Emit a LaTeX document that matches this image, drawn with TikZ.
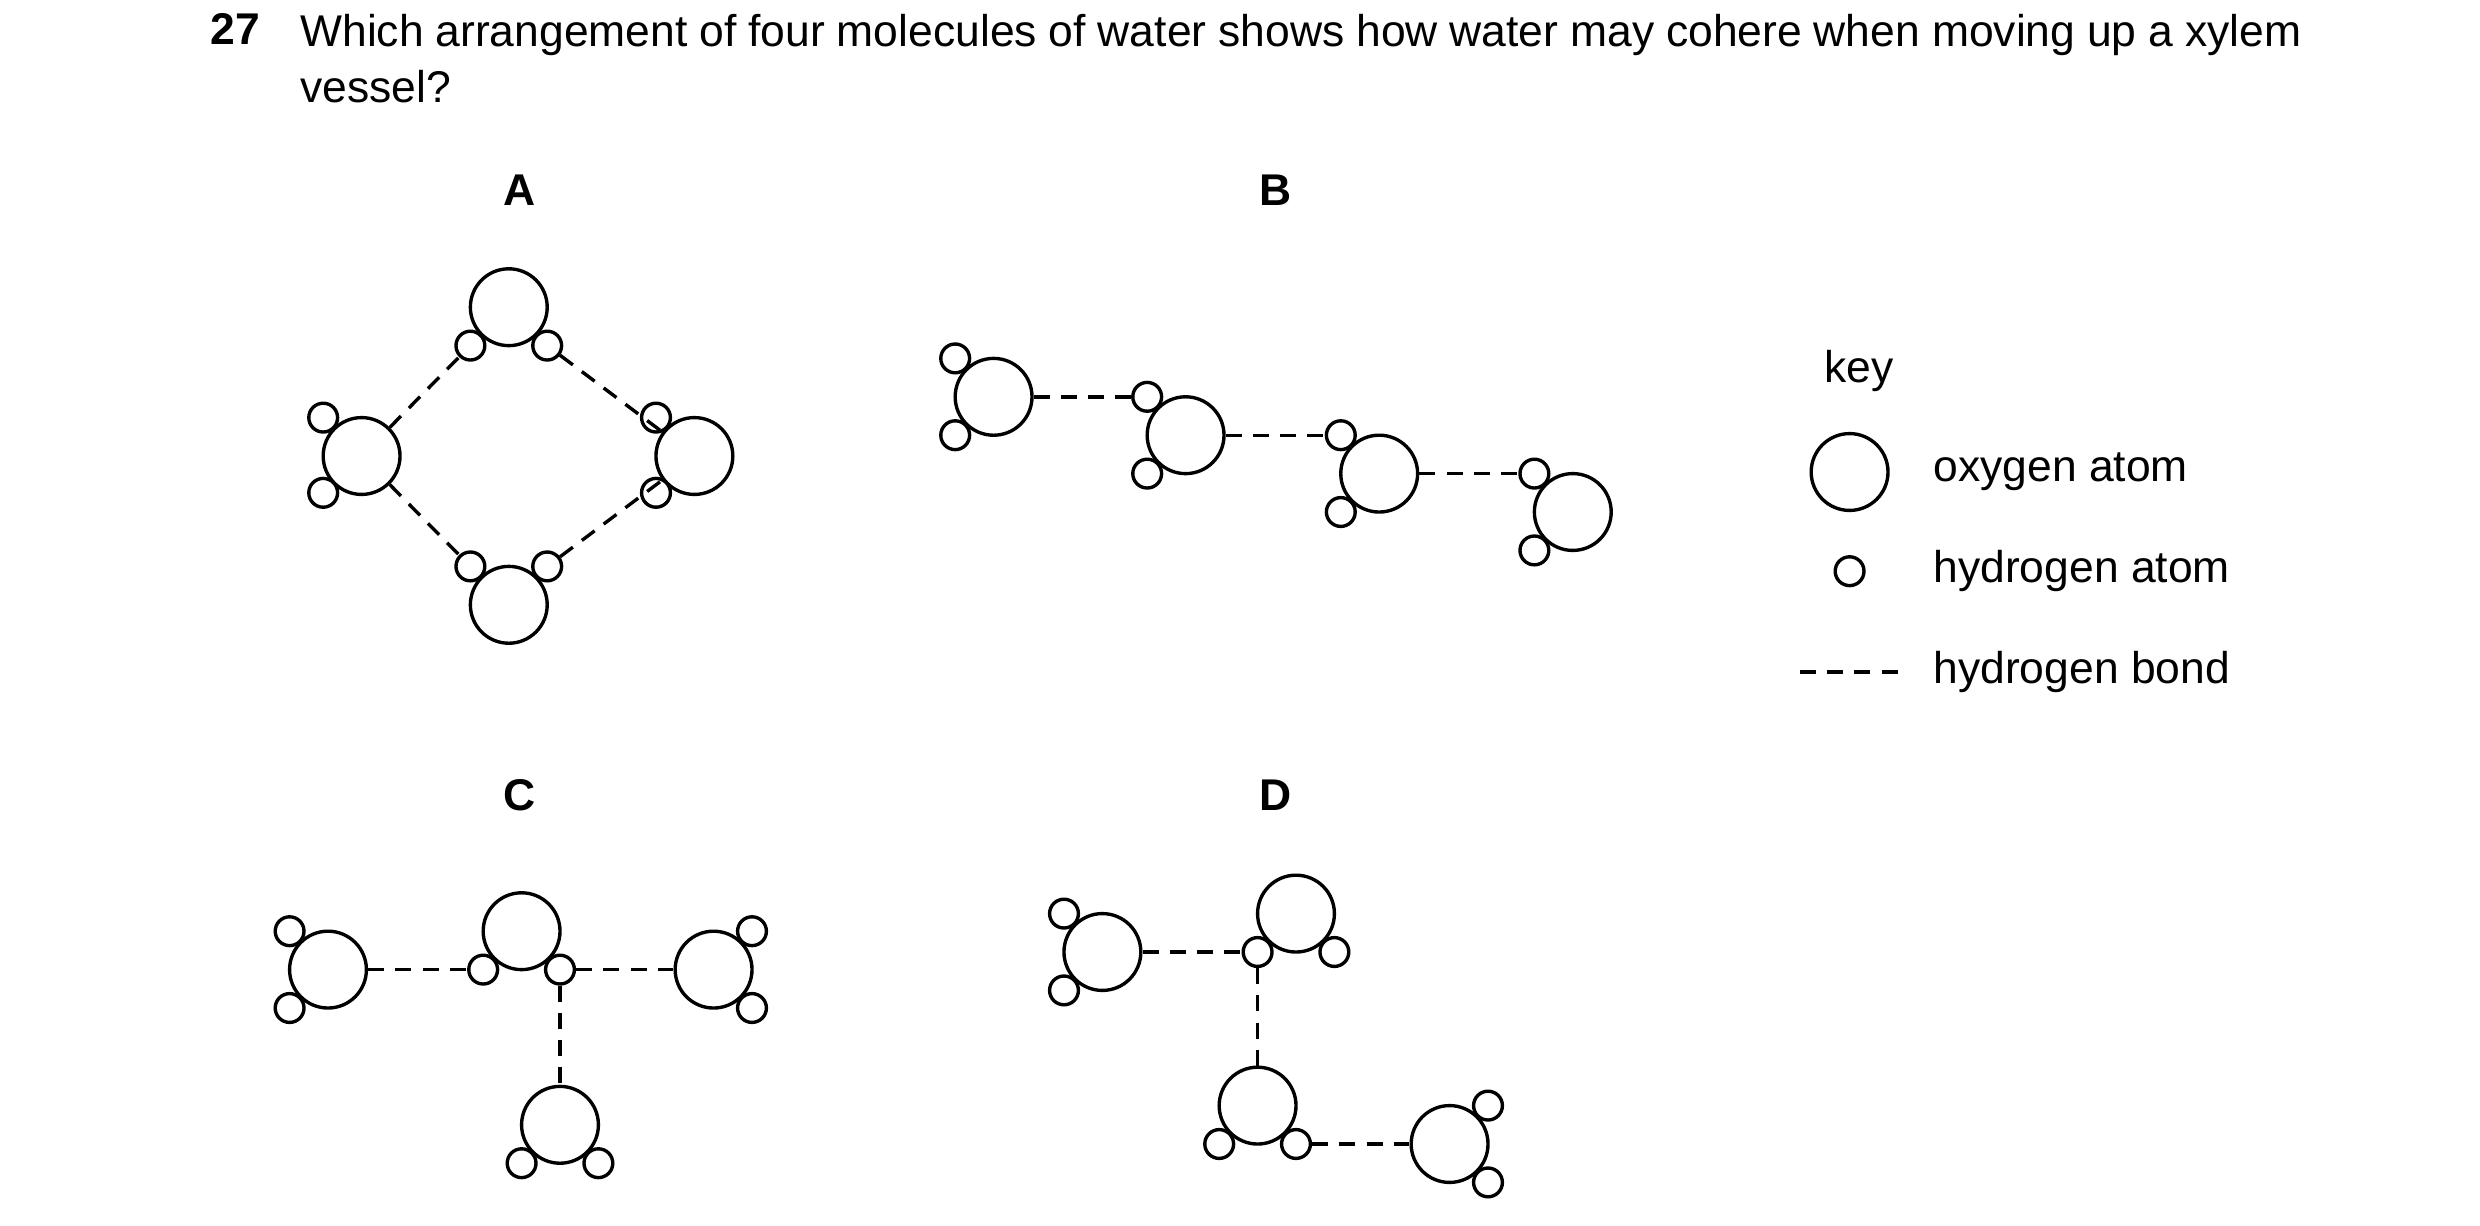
\documentclass[tikz,border=0pt]{standalone}
\usepackage{fontspec}
\setmainfont{Liberation Sans}
\begin{document}
\begin{tikzpicture}[x=0.01cm, y=-0.01cm, font=\fontsize{7.9}{10}\selectfont]
    \tikzstyle{oxy} = [circle, draw, line width=0.6pt, minimum size=0.48cm, inner sep=0pt]
    \tikzstyle{hyd} = [circle, draw, line width=0.6pt, minimum size=0.18cm, inner sep=0pt]
    \tikzstyle{hbond} = [line width=0.6pt, dash pattern=on 0.1cm off 0.07cm]
    \tikzstyle{letter} = [font=\fontsize{7.9}{10}\selectfont\bfseries]
    \useasboundingbox (0,0) rectangle (1550,766);

    % Question
    \node [letter, anchor=north west, inner sep=0pt] (qnum) at (131,8) {27};
    \node [anchor=north west, inner sep=0pt, text width=12.5cm, align=justify] (qtext) at (187,8)
        {Which arrangement of four molecules of water shows how water may cohere when moving up a xylem vessel?};

    % A
    \node [letter] (labA) at (325,119) {A};
    \node [oxy] (aO1) at (318,192) {};
    \node [hyd] (aH1a) at (294,216) {};
    \node [hyd] (aH1b) at (342,216) {};
    \node [oxy] (aO2) at (226,285) {};
    \node [hyd] (aH2a) at (202,261) {};
    \node [hyd] (aH2b) at (202,308) {};
    \node [oxy] (aO3) at (434,285) {};
    \node [hyd] (aH3a) at (410,261) {};
    \node [hyd] (aH3b) at (410,308) {};
    \node [oxy] (aO4) at (318,378) {};
    \node [hyd] (aH4a) at (294,354) {};
    \node [hyd] (aH4b) at (342,354) {};
    \draw [hbond] (aO2) -- (aH1a);
    \draw [hbond] (aH1b) -- (aO3);
    \draw [hbond] (aO2) -- (aH4a);
    \draw [hbond] (aH4b) -- (aO3);

    % B
    \node [letter] (labB) at (797,119) {B};
    \foreach \i/\x/\y in {1/621/248, 2/741/272, 3/862/296, 4/983/320} {
        \node [oxy] (bO\i) at (\x,\y) {};
        \node [hyd] (bH\i a) at (\x-24,\y-24) {};
        \node [hyd] (bH\i b) at (\x-24,\y+24) {};
    }
    \draw [hbond] (bO1) -- (bH2a);
    \draw [hbond] (bO2) -- (bH3a);
    \draw [hbond] (bO3) -- (bH4a);

    % C
    \node [letter] (labC) at (325,497) {C};
    \node [oxy] (cO1) at (205,606) {};
    \node [hyd] (cH1a) at (181,582) {};
    \node [hyd] (cH1b) at (181,630) {};
    \node [oxy] (cO2) at (326,582) {};
    \node [hyd] (cH2a) at (302,606) {};
    \node [hyd] (cH2b) at (350,606) {};
    \node [oxy] (cO3) at (446,606) {};
    \node [hyd] (cH3a) at (470,582) {};
    \node [hyd] (cH3b) at (470,630) {};
    \node [oxy] (cO4) at (350,703) {};
    \node [hyd] (cH4a) at (326,727) {};
    \node [hyd] (cH4b) at (374,727) {};
    \draw [hbond] (cO1) -- (cH2a);
    \draw [hbond] (cH2b) -- (cO3);
    \draw [hbond] (cH2b) -- (cO4);

    % D
    \node [letter] (labD) at (797,497) {D};
    \node [oxy] (dO1) at (689,595) {};
    \node [hyd] (dH1a) at (665,571) {};
    \node [hyd] (dH1b) at (665,619) {};
    \node [oxy] (dO2) at (810,571) {};
    \node [hyd] (dH2a) at (786,595) {};
    \node [hyd] (dH2b) at (834,595) {};
    \node [oxy] (dO3) at (786,691) {};
    \node [hyd] (dH3a) at (762,715) {};
    \node [hyd] (dH3b) at (810,715) {};
    \node [oxy] (dO4) at (906,715) {};
    \node [hyd] (dH4a) at (930,691) {};
    \node [hyd] (dH4b) at (930,739) {};
    \draw [hbond] (dO1) -- (dH2a);
    \draw [hbond] (dH2a) -- (dO3);
    \draw [hbond] (dH3b) -- (dO4);

    % Key
    \node [anchor=west] (keyT) at (1128,232) {key};
    \node [oxy] (keyO) at (1156,295) {};
    \node [anchor=west] (keyOt) at (1196,295) {oxygen atom};
    \node [hyd] (keyH) at (1156,357) {};
    \node [anchor=west] (keyHt) at (1196,357) {hydrogen atom};
    \coordinate (keyB1) at (1125,420);
    \coordinate (keyB2) at (1190,420);
    \draw [hbond] (keyB1) -- (keyB2);
    \node [anchor=west] (keyBt) at (1196,420) {hydrogen bond};
\end{tikzpicture}
\end{document}
